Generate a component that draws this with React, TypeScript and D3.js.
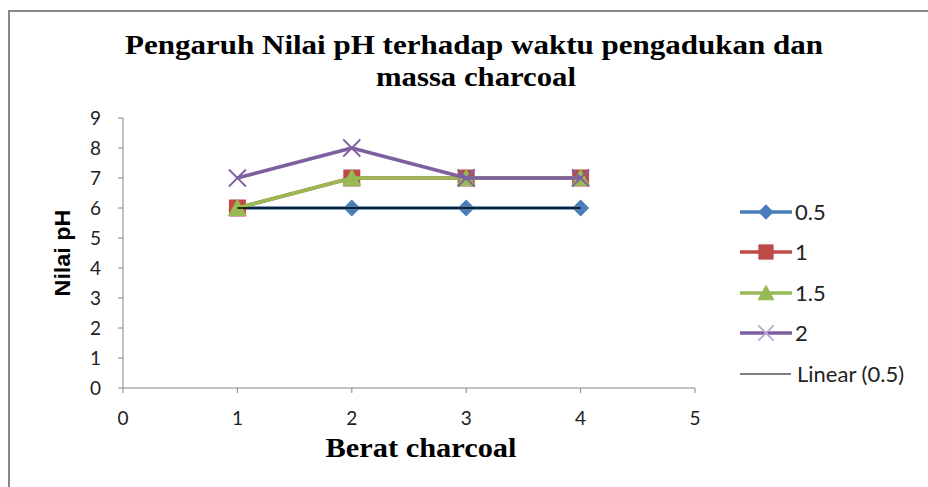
import React from "react";
import * as d3 from "d3";

const xValues = [1, 2, 3, 4];
const series05 = [6, 6, 6, 6];
const series1 = [6, 7, 7, 7];
const series15 = [6, 7, 7, 7];
const series2 = [7, 8, 7, 7];
const seriesNames = ["0.5", "1", "1.5", "2"];
const seriesColors = ["#4A7EBB", "#BE4B48", "#98B954", "#7D60A0"];
const trendName = "Linear (0.5)";
const xTicks = [0, 1, 2, 3, 4, 5];
const yTicks = [0, 1, 2, 3, 4, 5, 6, 7, 8, 9];

const W = 928;
const H = 487;
const FONT = "Lato, 'Open Sans', sans-serif";

export default function App() {
  const x = d3.scaleLinear().domain([0, 5]).range([123, 695]);
  const y = d3.scaleLinear().domain([0, 9]).range([388, 118]);
  const line = d3
    .line<number>()
    .x((_, i) => x(xValues[i]))
    .y((d) => y(d));
  const allSeries = [series05, series1, series15, series2];

  // trendline: least squares fit of series 0.5
  const n = xValues.length;
  const mx = d3.mean(xValues)!;
  const my = d3.mean(series05)!;
  const sxy = d3.sum(xValues.map((v, i) => (v - mx) * (series05[i] - my)));
  const sxx = d3.sum(xValues.map((v) => (v - mx) * (v - mx)));
  const slope = sxx === 0 ? 0 : sxy / sxx;
  const icpt = my - slope * mx;
  const tx0 = xValues[0];
  const tx1 = xValues[n - 1];

  const marker = (k: number, cx: number, cy: number, key: string, scale = 1) => {
    const c = seriesColors[k];
    if (k === 0) {
      const s = 8.5 * scale;
      return (
        <path key={key} d={`M${cx},${cy - s}L${cx + s},${cy}L${cx},${cy + s}L${cx - s},${cy}Z`} fill={c} />
      );
    }
    if (k === 1) {
      const s = 8.5 * scale;
      return <rect key={key} x={cx - s} y={cy - s} width={2 * s} height={2 * s} fill={c} />;
    }
    if (k === 2) {
      const s = 9.5 * scale;
      return (
        <path key={key} d={`M${cx},${cy - s}L${cx + s},${cy + s * 0.85}L${cx - s},${cy + s * 0.85}Z`} fill={c} />
      );
    }
    const s = 8.5 * scale;
    return (
      <path
        key={key}
        d={`M${cx - s},${cy - s}L${cx + s},${cy + s}M${cx - s},${cy + s}L${cx + s},${cy - s}`}
        stroke={scale < 1 ? "#B9A9D4" : c}
        strokeWidth={1.8}
        fill="none"
      />
    );
  };

  const legendY = [212, 252, 293, 333, 374];

  return (
    <svg
      width={W}
      height={H}
      style={{ position: "absolute", left: 0, top: 0, background: "#fff" }}
      fontFamily={FONT}
    >
      <rect x={0} y={0} width={W} height={H} fill="#fff" />
      <path d={`M9,${H + 2}L9,11L${W + 2},11`} fill="none" stroke="#878787" strokeWidth={2} />

      <text
        x={474}
        y={54}
        textAnchor="middle"
        fontFamily="'Liberation Serif', serif"
        fontWeight="bold"
        fontSize={27}
        textLength={698}
        lengthAdjust="spacingAndGlyphs"
      >
        Pengaruh Nilai pH terhadap waktu pengadukan dan
      </text>
      <text
        x={476}
        y={86}
        textAnchor="middle"
        fontFamily="'Liberation Serif', serif"
        fontWeight="bold"
        fontSize={27}
        textLength={200}
        lengthAdjust="spacingAndGlyphs"
      >
        massa charcoal
      </text>

      {/* axes */}
      <g stroke="#868686" strokeWidth={1}>
        <line x1={x(0)} y1={y(0)} x2={x(5)} y2={y(0)} />
        <line x1={x(0)} y1={y(0)} x2={x(0)} y2={y(9)} />
        {yTicks.map((t) => (
          <line key={"yt" + t} x1={x(0) - 5} x2={x(0)} y1={y(t)} y2={y(t)} />
        ))}
        {xTicks.map((t) => (
          <line key={"xt" + t} x1={x(t)} x2={x(t)} y1={y(0)} y2={y(0) + 5} />
        ))}
      </g>
      {yTicks.map((t) => (
        <text key={"yl" + t} x={101} y={y(t) + 7} textAnchor="end" fontSize={19} fill="#222">
          {t}
        </text>
      ))}
      {xTicks.map((t) => (
        <text key={"xl" + t} x={x(t)} y={425} textAnchor="middle" fontSize={19} fill="#222">
          {t}
        </text>
      ))}

      <text
        transform={`translate(70,${(y(0) + y(9)) / 2}) rotate(-90)`}
        textAnchor="middle"
        fontFamily="'Liberation Sans', Arial, sans-serif"
        fontWeight="bold"
        fontSize={22}
        textLength={87}
        lengthAdjust="spacingAndGlyphs"
      >
        Nilai pH
      </text>
      <text
        x={421}
        y={457}
        textAnchor="middle"
        fontFamily="'Liberation Serif', serif"
        fontWeight="bold"
        fontSize={27}
        textLength={191}
        lengthAdjust="spacingAndGlyphs"
      >
        Berat charcoal
      </text>

      {/* series */}
      {allSeries.map((s, k) => (
        <g key={"s" + k}>
          <path d={line(s)!} fill="none" stroke={seriesColors[k]} strokeWidth={3.6} strokeLinejoin="round" />
          {s.map((v, i) => marker(k, x(xValues[i]), y(v), `m${k}-${i}`))}
        </g>
      ))}
      <line
        x1={x(tx0)}
        y1={y(slope * tx0 + icpt)}
        x2={x(tx1)}
        y2={y(slope * tx1 + icpt)}
        stroke="#000"
        strokeWidth={1.3}
      />

      {/* legend */}
      {seriesNames.map((nm, k) => (
        <g key={"lg" + k}>
          <line x1={740} x2={792} y1={legendY[k]} y2={legendY[k]} stroke={seriesColors[k]} strokeWidth={3.6} />
          {marker(k, 766, legendY[k], "lm" + k, 0.9)}
          <text x={795} y={legendY[k] + 7.5} fontSize={22} fill="#222">
            {nm}
          </text>
        </g>
      ))}
      <line x1={740} x2={791} y1={legendY[4]} y2={legendY[4]} stroke="#000" strokeWidth={1.2} />
      <text x={797} y={legendY[4] + 7.5} fontSize={22} fill="#222">
        {trendName}
      </text>
    </svg>
  );
}
